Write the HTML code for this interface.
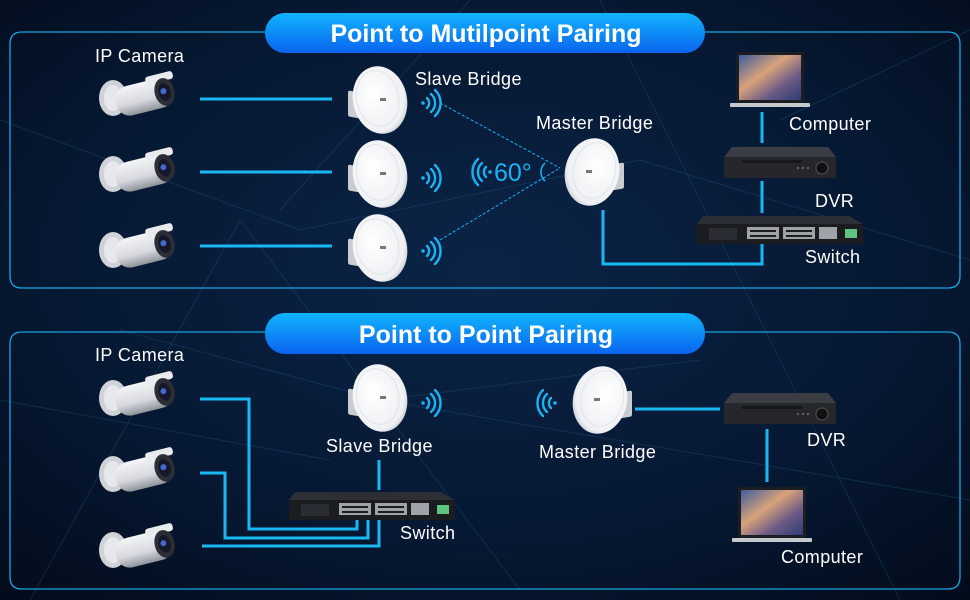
<!DOCTYPE html>
<html><head><meta charset="utf-8"><style>
html,body{margin:0;padding:0;background:#041022;}
svg{display:block}
text{font-family:"Liberation Sans",sans-serif;fill:#fff}
.lb{font-size:18px;letter-spacing:0.4px}
</style></head><body>
<svg width="970" height="600" viewBox="0 0 970 600" xmlns="http://www.w3.org/2000/svg">
<defs>
<radialGradient id="bg" cx="50%" cy="45%" r="75%">
<stop offset="0" stop-color="#0b2447"/><stop offset="0.6" stop-color="#061832"/><stop offset="1" stop-color="#030b1a"/>
</radialGradient>
<linearGradient id="pill" x1="0" y1="0" x2="0" y2="1">
<stop offset="0" stop-color="#11b4ff"/><stop offset="1" stop-color="#0a64ee"/>
</linearGradient>
<radialGradient id="disc" cx="40%" cy="40%" r="70%">
<stop offset="0" stop-color="#ffffff"/><stop offset="0.8" stop-color="#eef0f3"/><stop offset="1" stop-color="#b9bec6"/>
</radialGradient>
<linearGradient id="cam" x1="0" y1="0" x2="0" y2="1">
<stop offset="0" stop-color="#f4f5f7"/><stop offset="0.6" stop-color="#d6d9de"/><stop offset="1" stop-color="#8e939b"/>
</linearGradient>
<linearGradient id="scr" x1="0" y1="0" x2="1" y2="1">
<stop offset="0" stop-color="#3c5d9c"/><stop offset="0.4" stop-color="#d9a27a"/><stop offset="0.7" stop-color="#6b5a86"/><stop offset="1" stop-color="#2d3d72"/>
</linearGradient>
<g id="camera">
<ellipse cx="14" cy="22" rx="14" ry="18" fill="#cfd2d7"/>
<ellipse cx="14" cy="22" rx="9" ry="13" fill="#e6e8eb"/>
<g transform="rotate(-14 45 20)">
<rect x="16" y="6" width="58" height="30" rx="14" fill="url(#cam)"/>
<rect x="50" y="2" width="28" height="8" rx="3" fill="#e9ebee"/>
<ellipse cx="66" cy="21" rx="10" ry="14" fill="#2b2e35"/>
<ellipse cx="66" cy="21" rx="6" ry="9" fill="#15182a"/>
<circle cx="65" cy="20" r="3" fill="#4666c8"/>
</g>
</g>
<g id="bridge">
<rect x="-32" y="-4" width="18" height="26" rx="2" fill="#c9ccd1" transform="skewY(10)"/>
<ellipse cx="0" cy="0" rx="27" ry="34" fill="url(#disc)" transform="rotate(-12)"/>
<ellipse cx="-2" cy="-2" rx="21" ry="28" fill="none" stroke="#e1e4e8" stroke-width="1" transform="rotate(-12)"/>
<rect x="0" y="-2" width="6" height="3" fill="#777"/>
</g>
<g id="wifiR" fill="none" stroke="#19b4f5" stroke-width="2.4" stroke-linecap="round">
<circle cx="0" cy="0" r="1.8" fill="#19b4f5" stroke="none"/>
<path d="M4 -5 A7 7 0 0 1 4 5"/><path d="M8 -9 A12 12 0 0 1 8 9"/><path d="M12 -13 A18 18 0 0 1 12 13"/>
</g>
<g id="wifiL"><use href="#wifiR" transform="scale(-1 1)"/></g>
<g id="switch">
<polygon points="6,0 152,0 166,8 0,8" fill="#2c2f35"/>
<rect x="0" y="8" width="166" height="20" fill="#1a1c20"/>
<rect x="12" y="12" width="28" height="12" fill="#2a2d33"/>
<g fill="#9ea3aa"><rect x="50" y="11" width="32" height="12"/><rect x="86" y="11" width="32" height="12"/><rect x="122" y="11" width="18" height="12"/></g>
<g fill="#1a1c20"><rect x="53" y="14" width="26" height="2"/><rect x="89" y="14" width="26" height="2"/><rect x="53" y="19" width="26" height="2"/><rect x="89" y="19" width="26" height="2"/></g>
<rect x="148" y="13" width="12" height="9" fill="#5fc480"/>
</g>
<g id="dvr">
<polygon points="8,0 104,0 112,10 0,10" fill="#3a3d43"/>
<rect x="0" y="10" width="112" height="21" fill="#25272c"/>
<rect x="18" y="13" width="60" height="3" fill="#15171a"/>
<circle cx="98" cy="21" r="6" fill="#111" stroke="#555"/>
<g fill="#777"><circle cx="74" cy="21" r="1"/><circle cx="79" cy="21" r="1"/><circle cx="84" cy="21" r="1"/></g>
</g>
<g id="laptop">
<rect x="6" y="0" width="68" height="51" rx="2" fill="#1b1d22"/>
<rect x="9" y="3" width="62" height="45" fill="url(#scr)"/>
<rect x="0" y="51" width="80" height="4" rx="1" fill="#c5c8cd"/>
</g>
</defs>
<rect width="970" height="600" fill="url(#bg)"/>
<g stroke="#1d5a86" stroke-width="1" opacity="0.35">
<line x1="0" y1="120" x2="300" y2="230"/><line x1="300" y1="230" x2="640" y2="160"/><line x1="640" y1="160" x2="970" y2="260"/>
<line x1="30" y1="600" x2="240" y2="220"/><line x1="240" y1="220" x2="520" y2="590"/><line x1="280" y1="210" x2="470" y2="0"/>
<line x1="0" y1="400" x2="330" y2="460"/><line x1="380" y1="400" x2="700" y2="360"/><line x1="380" y1="400" x2="970" y2="500"/>
<line x1="600" y1="0" x2="900" y2="600"/><line x1="780" y1="120" x2="970" y2="30"/><line x1="120" y1="330" x2="380" y2="400"/>
</g>
<path d="M265 32 H22 Q10 32 10 44 V276 Q10 288 22 288 H948 Q960 288 960 276 V44 Q960 32 948 32 H705" fill="none" stroke="#16a6e4" stroke-width="1.3"/>
<path d="M265 332 H22 Q10 332 10 344 V577 Q10 589 22 589 H948 Q960 589 960 577 V344 Q960 332 948 332 H705" fill="none" stroke="#16a6e4" stroke-width="1.3"/>
<rect x="265" y="13" width="440" height="40" rx="20" fill="url(#pill)"/>
<rect x="265" y="313" width="440" height="41" rx="20" fill="url(#pill)"/>
<text x="486" y="42" text-anchor="middle" font-size="25" font-weight="bold">Point to Mutilpoint Pairing</text>
<text x="486" y="343" text-anchor="middle" font-size="25" font-weight="bold">Point to Point Pairing</text>
<text x="95" y="62" class="lb">IP Camera</text>
<use href="#camera" x="99" y="76"/><use href="#camera" x="99" y="152"/><use href="#camera" x="99" y="228"/>
<g stroke="#1ab8f3" stroke-width="3" fill="none">
<line x1="200" y1="99" x2="332" y2="99"/><line x1="200" y1="172" x2="332" y2="172"/><line x1="200" y1="246" x2="332" y2="246"/>
<polyline points="603,210 603,264 762,264 762,243"/>
<line x1="762" y1="112" x2="762" y2="143"/><line x1="762" y1="181" x2="762" y2="213"/>
</g>
<use href="#bridge" x="380" y="100"/><use href="#bridge" x="380" y="174"/><use href="#bridge" x="380" y="248"/>
<use href="#wifiR" x="423" y="103"/><use href="#wifiR" x="423" y="178"/><use href="#wifiR" x="423" y="251"/>
<text x="415" y="85" class="lb">Slave Bridge</text>
<g stroke="#19b4f5" stroke-width="1" stroke-dasharray="3,2"><line x1="440" y1="103" x2="560" y2="168"/><line x1="440" y1="240" x2="560" y2="168"/></g>
<use href="#wifiL" x="490" y="172"/>
<text x="494" y="181" font-size="25" style="fill:#19b4f5">60°</text>
<path d="M545 163 A12 12 0 0 0 545 181" fill="none" stroke="#19b4f5" stroke-width="1.5"/>
<use href="#bridge" x="592" y="172" transform="scale(-1 1) translate(-1184 0)"/>
<text x="536" y="129" class="lb">Master Bridge</text>
<use href="#laptop" x="730" y="52"/>
<text x="789" y="130" class="lb">Computer</text>
<use href="#dvr" x="724" y="147"/>
<text x="815" y="207" class="lb">DVR</text>
<use href="#switch" x="697" y="216"/>
<text x="805" y="263" class="lb">Switch</text>
<text x="95" y="361" class="lb">IP Camera</text>
<use href="#camera" x="99" y="376"/><use href="#camera" x="99" y="452"/><use href="#camera" x="99" y="528"/>
<g stroke="#1ab8f3" stroke-width="3" fill="none">
<polyline points="200,399 249,399 249,529 357,529 357,519"/>
<polyline points="200,473 225,473 225,538 368,538 368,519"/>
<polyline points="202,546 379,546 379,519"/>
<line x1="379" y1="460" x2="379" y2="490"/>
<line x1="635" y1="409" x2="720" y2="409"/>
<line x1="767" y1="429" x2="767" y2="482"/>
</g>
<use href="#bridge" x="380" y="398"/>
<use href="#wifiR" x="423" y="403"/>
<text x="326" y="452" class="lb">Slave Bridge</text>
<use href="#switch" x="289" y="492"/>
<text x="400" y="539" class="lb">Switch</text>
<use href="#wifiL" x="555" y="403"/>
<use href="#bridge" x="600" y="400" transform="scale(-1 1) translate(-1200 0)"/>
<text x="539" y="458" class="lb">Master Bridge</text>
<use href="#dvr" x="724" y="393"/>
<text x="807" y="446" class="lb">DVR</text>
<use href="#laptop" x="732" y="487"/>
<text x="781" y="563" class="lb">Computer</text>
</svg>
</body></html>
